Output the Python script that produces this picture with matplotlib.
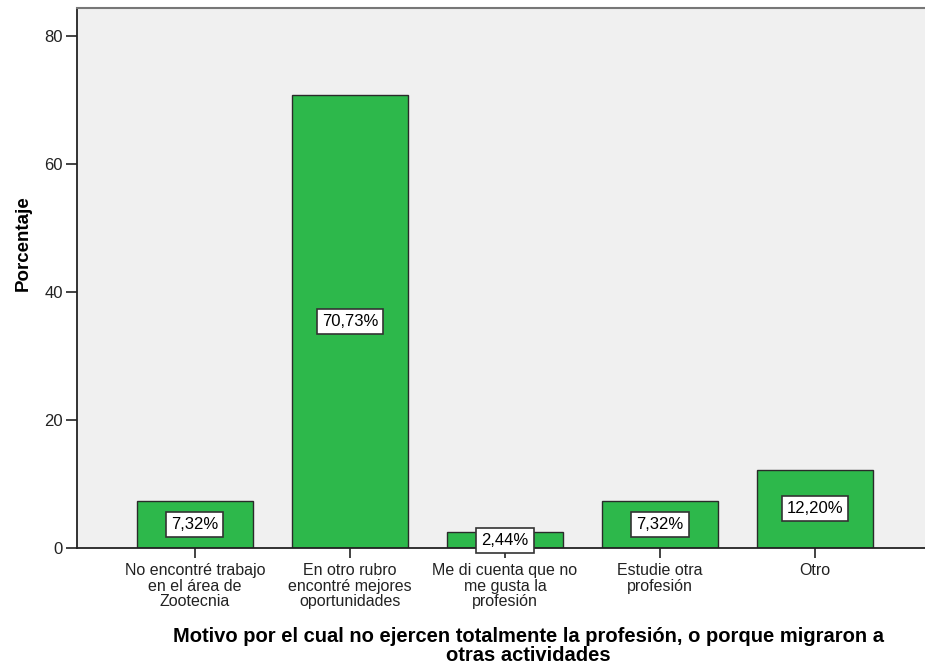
import numpy as np
import matplotlib.pyplot as plt

plt.rcParams['font.family'] = ['Liberation Sans', 'DejaVu Sans']

categorias = ["No encontré trabajo\nen el área de\nZootecnia",
              "En otro rubro\nencontré mejores\noportunidades",
              "Me di cuenta que no\nme gusta la\nprofesión",
              "Estudie otra\nprofesión",
              "Otro"]
porcentajes = [7.32, 70.73, 2.44, 7.32, 12.20]
etiquetas = ["7,32%", "70,73%", "2,44%", "7,32%", "12,20%"]

fig = plt.figure(figsize=(9.25, 6.72), dpi=100)
ax = fig.add_axes([77/925, 1 - 548/672, 1 - 77/925, 540/672])
ax.set_facecolor('#f0f0f0')

x = np.arange(len(categorias))
ax.bar(x, porcentajes, width=0.75, color='#2db84b', edgecolor='#2a2a2a',
       linewidth=1.0, zorder=2)

for xi, v, t in zip(x, porcentajes, etiquetas):
    ax.text(xi, v / 2, t, ha='center', va='center', fontsize=12, zorder=3,
            bbox=dict(boxstyle='square,pad=0.3', facecolor='white',
                      edgecolor='#333333', linewidth=1.2))

ax.set_xlim(-0.76, 4.71)
ax.set_ylim(0, 84.4)
ax.set_yticks([0, 20, 40, 60, 80])
ax.set_xticks(x)
ax.set_xticklabels(categorias, fontsize=11.5, linespacing=1.05)
ax.tick_params(axis='y', length=8, width=1.2, labelsize=12, colors='#222222', pad=2)
ax.tick_params(axis='x', length=7, width=1.2, colors='#222222', pad=4)

for s in ['left', 'bottom']:
    ax.spines[s].set_color('#222222')
    ax.spines[s].set_linewidth(1.3)
ax.spines['top'].set_color('#777777')
ax.spines['top'].set_linewidth(1.5)
ax.spines['right'].set_visible(False)

ax.set_ylabel('Porcentaje', fontsize=13.5, fontweight='bold')
ax.yaxis.set_label_coords(-0.053, 0.565)
ax.set_xlabel('Motivo por el cual no ejercen totalmente la profesión, o porque migraron a\notras actividades',
              fontsize=14.5, fontweight='bold', linespacing=1.0)
ax.xaxis.set_label_coords(0.532, -0.146)

fig.savefig('out.png', dpi=100)
